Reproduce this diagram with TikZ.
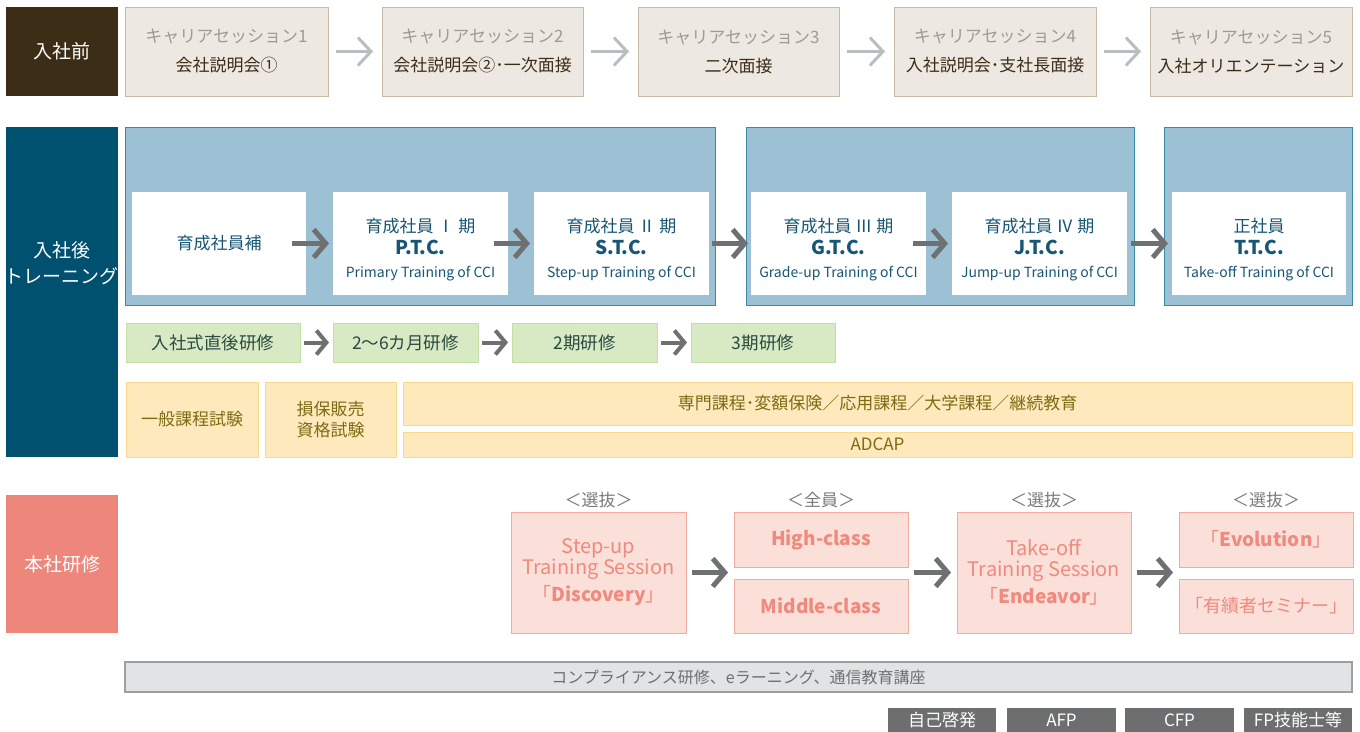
\documentclass[tikz,border=0pt]{standalone}
\usepackage{fontspec}
\setmainfont{Noto Sans CJK JP}
\usetikzlibrary{arrows.meta}
\definecolor{brownlab}{HTML}{3B2D16}
\definecolor{topfill}{HTML}{EEE8E2}
\definecolor{topborder}{HTML}{C9BBA4}
\definecolor{topgray}{HTML}{9F9A95}
\definecolor{arrowlight}{HTML}{B9BEC2}
\definecolor{bluelab}{HTML}{005070}
\definecolor{panelfill}{HTML}{9DC1D4}
\definecolor{panelborder}{HTML}{3A8AA6}
\definecolor{bluetext}{HTML}{175674}
\definecolor{arrowdark}{HTML}{6E7072}
\definecolor{greenfill}{HTML}{D7EAC4}
\definecolor{greenborder}{HTML}{C2E0A6}
\definecolor{greentext}{HTML}{2B4A40}
\definecolor{yelfill}{HTML}{FEE9BD}
\definecolor{yelborder}{HTML}{FAD98C}
\definecolor{yeltext}{HTML}{7D6B12}
\definecolor{salmon}{HTML}{EE877B}
\definecolor{pinkfill}{HTML}{FBDFD9}
\definecolor{pinkborder}{HTML}{F4AAA0}
\definecolor{pinktext}{HTML}{EF8A7E}
\definecolor{selgray}{HTML}{7A7A7A}
\definecolor{barfill}{HTML}{E2E3E5}
\definecolor{barborder}{HTML}{9DA0A3}
\definecolor{bartext}{HTML}{6D6F72}
\definecolor{darkbox}{HTML}{6C6E70}
\newcommand\upstrut{\rule{0pt}{26pt}}
\begin{document}
\begin{tikzpicture}[x=1pt,y=-1pt,
  rect/.style={anchor=north west, inner sep=0pt, outer sep=0pt, align=center},
  lab/.style={rect, text=white, minimum width=112pt, font=\fontsize{19}{26}\selectfont},
  topbox/.style={rect, draw=topborder, fill=topfill, line width=1pt, minimum height=89pt, text=brownlab, font=\fontsize{17}{29}\selectfont},
  panel/.style={rect, draw=panelborder, fill=panelfill, line width=1pt, minimum height=178pt},
  whitebox/.style={rect, fill=white, minimum width=175pt, minimum height=103pt, text=bluetext, font=\fontsize{17}{22.5}\selectfont},
  greenbox/.style={rect, draw=greenborder, fill=greenfill, line width=1pt, minimum height=39pt, text=greentext, font=\fontsize{17.5}{22}\selectfont},
  yelbox/.style={rect, draw=yelborder, fill=yelfill, line width=1pt, text=yeltext, font=\fontsize{17}{21}\selectfont},
  pinkbox/.style={rect, draw=pinkborder, fill=pinkfill, line width=1pt, minimum width=174pt, text=pinktext, font=\fontsize{20}{21}\selectfont},
  sel/.style={text=selgray, font=\fontsize{17}{20}\selectfont, inner sep=0pt},
  darkbtn/.style={rect, fill=darkbox, minimum height=24pt, text=white, font=\fontsize{17}{20}\selectfont},
  lightarrow/.style={draw=arrowlight, line width=3pt, -{Straight Barb[length=13pt,width=28pt]}},
  darkarrow/.style={draw=arrowdark, line width=5pt, -{Straight Barb[length=12pt,width=28pt]}},
  midarrow/.style={draw=arrowdark, line width=4pt, -{Straight Barb[length=10pt,width=24pt]}}
]
\useasboundingbox (0,0) rectangle (1360,731);

% ---- row 1 ----
\node[lab, fill=brownlab, minimum height=89pt] (pre) at (6,7) {入社前};
\node[topbox, minimum width=203pt] (t1) at (125,7) {\textcolor{topgray}{キャリアセッション1}\\会社説明会①};
\node[topbox, minimum width=201pt] (t2) at (382,7) {\textcolor{topgray}{キャリアセッション2}\\会社説明会②･一次面接};
\node[topbox, minimum width=201pt] (t3) at (638,7) {\textcolor{topgray}{キャリアセッション3}\\二次面接};
\node[topbox, minimum width=202pt] (t4) at (894,7) {\textcolor{topgray}{キャリアセッション4}\\入社説明会･支社長面接};
\node[topbox, minimum width=202pt] (t5) at (1150,7) {\textcolor{topgray}{キャリアセッション5}\\入社オリエンテーション};
\draw[lightarrow] ([xshift=8pt]t1.east) -- ([xshift=-9pt]t2.west);
\draw[lightarrow] ([xshift=8pt]t2.east) -- ([xshift=-9pt]t3.west);
\draw[lightarrow] ([xshift=8pt]t3.east) -- ([xshift=-9pt]t4.west);
\draw[lightarrow] ([xshift=8pt]t4.east) -- ([xshift=-9pt]t5.west);

% ---- row 2 ----
\node[rect, fill=bluelab, minimum width=112pt, minimum height=330pt,
  label={[text=white, align=center, font=\fontsize{19}{26}\selectfont, yshift=29pt]center:入社後\\トレーニング}] (post) at (6,127) {};
\node[panel, minimum width=590pt] (p1) at (125,127) {};
\node[panel, minimum width=388pt] (p2) at (746,127) {};
\node[panel, minimum width=188pt] (p3) at (1164,127) {};
\node[whitebox, minimum width=174pt] (wa) at (132,192) {育成社員補};
\node[whitebox] (wb) at (333,192) {\upstrut 育成社員 Ⅰ 期\\{\fontsize{19}{22.5}\selectfont\bfseries P.T.C.}\\{\fontsize{14}{22.5}\selectfont Primary Training of CCI}};
\node[whitebox] (wc) at (534,192) {\upstrut 育成社員 Ⅱ 期\\{\fontsize{19}{22.5}\selectfont\bfseries S.T.C.}\\{\fontsize{14}{22.5}\selectfont Step-up Training of CCI}};
\node[whitebox] (wd) at (751,192) {\upstrut 育成社員 Ⅲ 期\\{\fontsize{19}{22.5}\selectfont\bfseries G.T.C.}\\{\fontsize{14}{22.5}\selectfont Grade-up Training of CCI}};
\node[whitebox] (we) at (952,192) {\upstrut 育成社員 Ⅳ 期\\{\fontsize{19}{22.5}\selectfont\bfseries J.T.C.}\\{\fontsize{14}{22.5}\selectfont Jump-up Training of CCI}};
\node[whitebox, minimum width=174pt] (wf) at (1172,192) {\upstrut 正社員\\{\fontsize{19}{22.5}\selectfont\bfseries T.T.C.}\\{\fontsize{14}{22.5}\selectfont Take-off Training of CCI}};
\draw[darkarrow] ([xshift=-14pt]wa.east) -- ([xshift=-4pt]wb.west);
\draw[darkarrow] ([xshift=-14pt]wb.east) -- ([xshift=-4pt]wc.west);
\draw[darkarrow] ([xshift=3pt]wc.east) -- ([xshift=-3pt]wd.west);
\draw[darkarrow] ([xshift=-13pt]wd.east) -- ([xshift=-4pt]we.west);
\draw[darkarrow] ([xshift=4pt]we.east) -- ([xshift=-4pt]wf.west);

% green row
\node[greenbox, minimum width=174pt] (g1) at (126,323) {入社式直後研修};
\node[greenbox, minimum width=145pt] (g2) at (333,323) {2～6カ月研修};
\node[greenbox, minimum width=145pt] (g3) at (512,323) {2期研修};
\node[greenbox, minimum width=144pt] (g4) at (691,323) {3期研修};
\draw[midarrow] ([xshift=4pt]g1.east) -- ([xshift=-4pt]g2.west);
\draw[midarrow] ([xshift=4pt]g2.east) -- ([xshift=-4pt]g3.west);
\draw[midarrow] ([xshift=4pt]g3.east) -- ([xshift=-4pt]g4.west);

% yellow row
\node[yelbox, minimum width=132pt, minimum height=75pt] (y1) at (126,382) {一般課程試験};
\node[yelbox, minimum width=131pt, minimum height=75pt] (y2) at (265,382) {損保販売\\資格試験};
\node[yelbox, minimum width=949pt, minimum height=43pt] (y3) at (403,382) {専門課程･変額保険／応用課程／大学課程／継続教育};
\node[yelbox, minimum width=949pt, minimum height=25pt] (y4) at (403,432) {ADCAP};

% ---- row 3 ----
\node[lab, fill=salmon, minimum height=138pt] (hq) at (6,495) {本社研修};
\node[sel] (s1) at (598.5,500) {＜選抜＞};
\node[sel] (s2) at (821,500) {＜全員＞};
\node[sel] (s3) at (1044,500) {＜選抜＞};
\node[sel] (s4) at (1266,500) {＜選抜＞};
\node[pinkbox, minimum width=175pt, minimum height=121pt] (k1) at (511,512) {Step-up\\Training Session\\[5pt]{\fontsize{19}{21}\selectfont「\textbf{Discovery}」}};
\node[pinkbox, minimum height=55pt] (k2) at (734,512) {\fontsize{19}{21}\selectfont\bfseries High-class};
\node[pinkbox, minimum height=54pt] (k3) at (734,579) {\fontsize{19}{21}\selectfont\bfseries Middle-class};
\node[pinkbox, minimum height=121pt] (k4) at (957,512) {Take-off\\Training Session\\[5pt]{\fontsize{19}{21}\selectfont「\textbf{Endeavor}」}};
\node[pinkbox, minimum height=55pt] (k5) at (1179,512) {\fontsize{19}{21}\selectfont「\textbf{Evolution}」};
\node[pinkbox, minimum height=54pt] (k6) at (1179,579) {\fontsize{18}{21}\selectfont「有績者セミナー」};
\draw[darkarrow] ([xshift=6pt]k1.east) -- ([xshift=-6pt]k2.west |- k1.east);
\draw[darkarrow] ([xshift=6pt]k2.east |- k4.west) -- ([xshift=-6pt]k4.west);
\draw[darkarrow] ([xshift=6pt]k4.east) -- ([xshift=-6pt]k5.west |- k4.east);

% ---- bottom ----
\node[rect, draw=barborder, fill=barfill, line width=1.2pt, minimum width=1227pt, minimum height=30pt, text=bartext, font=\fontsize{16}{20}\selectfont] (bar) at (125,662) {コンプライアンス研修、eラーニング、通信教育講座};
\node[darkbtn, minimum width=108pt] (d1) at (888,708) {自己啓発};
\node[darkbtn, minimum width=109pt] (d2) at (1007,708) {AFP};
\node[darkbtn, minimum width=109pt] (d3) at (1125,708) {CFP};
\node[darkbtn, minimum width=108pt] (d4) at (1244,708) {FP技能士等};
\end{tikzpicture}
\end{document}
